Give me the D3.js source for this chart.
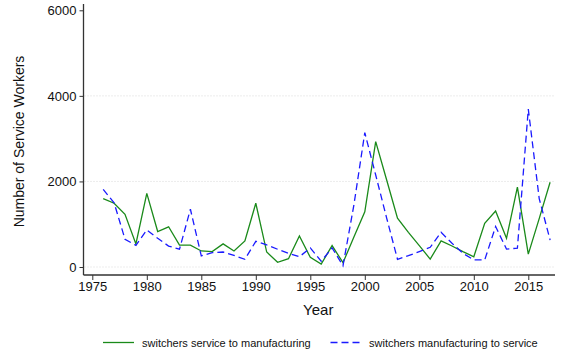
<!DOCTYPE html>
<html>
<head>
<meta charset="utf-8">
<script src="https://cdn.jsdelivr.net/npm/d3@7"></script>
<style>
  html, body { margin: 0; padding: 0; background: #fff; }
  svg { display: block; font-family: "Liberation Sans", Arial, sans-serif; }
</style>
</head>
<body>
<svg id="chart" width="561" height="356"></svg>
<script>
// Yearly counts of workers switching between sectors
const years = [1976,1977,1978,1979,1980,1981,1982,1983,1984,1985,1986,1987,1988,1989,1990,
  1991,1992,1993,1994,1995,1996,1997,1998,1999,2000,2001,2002,2003,2004,2005,2006,2007,2008,
  2009,2010,2011,2012,2013,2014,2015,2016,2017];

const serviceToManufacturing = [1600,1490,1230,540,1720,830,940,510,510,375,360,540,375,610,1490,
  350,110,195,725,225,70,500,100,700,1290,2930,2040,1140,810,500,185,610,490,
  360,240,1020,1310,670,1865,300,1130,1980];

const manufacturingToService = [1815,1500,650,505,865,670,490,415,1350,260,335,350,270,180,600,
  515,415,320,240,445,135,445,30,1450,3140,2150,1150,180,265,360,460,810,555,
  320,165,165,945,420,440,3690,1600,630];

const xTicks = [1975,1980,1985,1990,1995,2000,2005,2010,2015];
const yTicks = [0,2000,4000,6000];
const seriesNames = ["switchers service to manufacturing", "switchers manufacturing to service"];

const svg = d3.select("#chart");

const plot = { left: 83.5, right: 555, top: 4, bottom: 275 };

const x = d3.scaleLinear().domain([1975, 2015]).range([92.3, 528.3]);
const y = d3.scaleLinear().domain([0, 6000]).range([267, 10.3]);

// gridlines
svg.append("g")
  .selectAll("line")
  .data(yTicks.filter(t => t < 6000))
  .join("line")
  .attr("x1", plot.left + 1).attr("x2", plot.right)
  .attr("y1", d => y(d)).attr("y2", d => y(d))
  .attr("stroke", "#d9d9d9")
  .attr("stroke-width", 1)
  .attr("stroke-dasharray", "1,2");

// y axis
const yAxis = d3.axisLeft(y).tickValues(yTicks).tickSize(4).tickPadding(3).tickFormat(d3.format("d"));
const gy = svg.append("g").attr("transform", `translate(${plot.left},0)`).call(yAxis);
gy.select(".domain").remove();
gy.append("line").attr("x1", 0).attr("x2", 0).attr("y1", plot.top).attr("y2", plot.bottom)
  .attr("stroke", "#333").attr("stroke-width", 1.3);
gy.selectAll(".tick line").attr("stroke", "#333");
gy.selectAll(".tick text").attr("font-size", 13).attr("fill", "#111")
  .attr("font-family", "Liberation Sans, Arial, sans-serif");

// x axis
const xAxis = d3.axisBottom(x).tickValues(xTicks).tickSize(5).tickPadding(2).tickFormat(d3.format("d"));
const gx = svg.append("g").attr("transform", `translate(0,${plot.bottom})`).call(xAxis);
gx.select(".domain").remove();
gx.append("line").attr("x1", plot.left).attr("x2", plot.right).attr("y1", 0).attr("y2", 0)
  .attr("stroke", "#333").attr("stroke-width", 1.3);
gx.selectAll(".tick line").attr("stroke", "#333");
gx.selectAll(".tick text").attr("font-size", 13).attr("fill", "#111")
  .attr("font-family", "Liberation Sans, Arial, sans-serif");

// axis titles
svg.append("text")
  .attr("x", (plot.left + plot.right) / 2 - 1).attr("y", 315)
  .attr("text-anchor", "middle").attr("font-size", 15).attr("fill", "#111")
  .text("Year");

svg.append("text")
  .attr("transform", `translate(24,${(plot.top + plot.bottom) / 2 + 2}) rotate(-90)`)
  .attr("text-anchor", "middle").attr("font-size", 14).attr("fill", "#111")
  .text("Number of Service Workers");

// series lines
const line = vals => d3.line()
  .x((d, i) => x(years[i]))
  .y(d => y(d))(vals);

svg.append("path")
  .attr("d", line(serviceToManufacturing))
  .attr("fill", "none")
  .attr("stroke", "#1a8a1a")
  .attr("stroke-width", 1.3)
  .attr("stroke-linejoin", "miter");

svg.append("path")
  .attr("d", line(manufacturingToService))
  .attr("fill", "none")
  .attr("stroke", "#1a1aff")
  .attr("stroke-width", 1.3)
  .attr("stroke-dasharray", "7,4");

// legend
const legend = svg.append("g").attr("font-size", 11).attr("fill", "#111");
const legendItems = [
  { name: seriesNames[0], color: "#1a8a1a", dash: null, x0: 103, tx: 142 },
  { name: seriesNames[1], color: "#1a1aff", dash: "7,4", x0: 330.5, tx: 369 }
];
legendItems.forEach(it => {
  legend.append("line")
    .attr("x1", it.x0).attr("x2", it.x0 + 31)
    .attr("y1", 342.5).attr("y2", 342.5)
    .attr("stroke", it.color).attr("stroke-width", 1.3)
    .attr("stroke-dasharray", it.dash);
  legend.append("text")
    .attr("x", it.tx).attr("y", 346.5)
    .text(it.name);
});
</script>
</body>
</html>
